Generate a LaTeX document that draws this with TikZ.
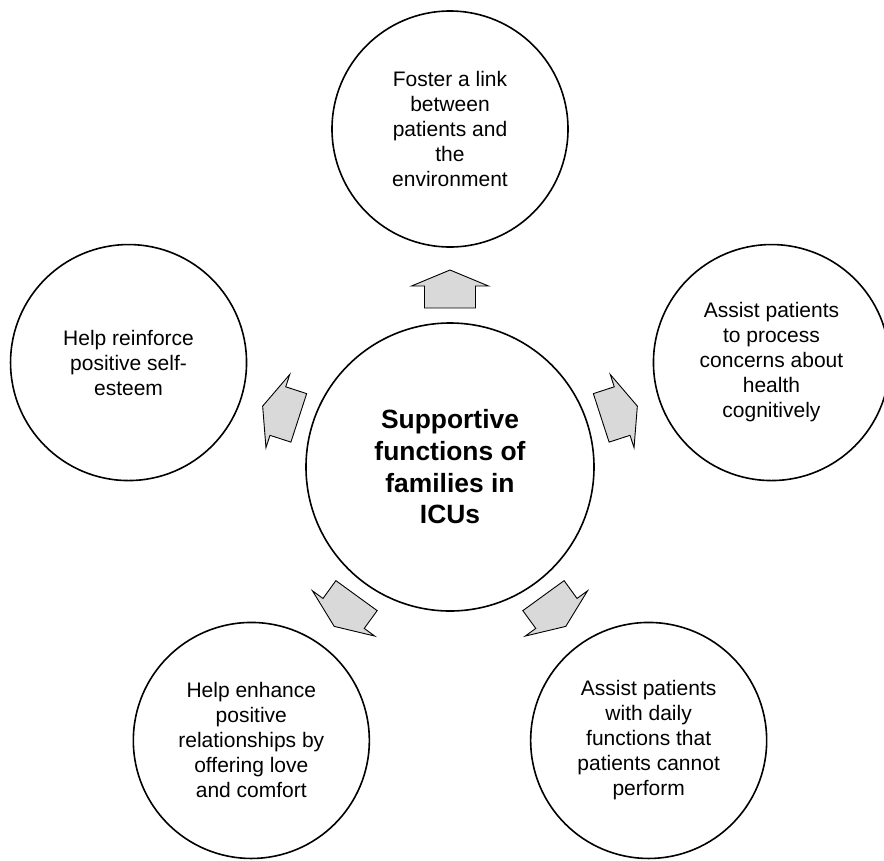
\documentclass[tikz,border=0pt]{standalone}
\usepackage{fontspec}
\setmainfont{Liberation Sans}
\usetikzlibrary{calc}
\definecolor{arrowgray}{HTML}{D9D9D9}
\begin{document}
\begin{tikzpicture}[x=1pt,y=1pt,
  outer/.style={circle, draw=black, line width=1.6pt, fill=white, minimum size=236pt, inner sep=0pt, align=center, font=\fontsize{21}{25}\selectfont},
  hub/.style={circle, draw=black, line width=1.6pt, fill=white, minimum size=288pt, inner sep=0pt, align=center, font=\fontsize{26.4}{31.7}\selectfont\bfseries},
  blockarrow/.style={draw=black, line width=0.9pt, fill=arrowgray, line join=miter}]
\useasboundingbox (0,-860) rectangle (884,0);
\clip (0,-860) rectangle (884,0);
\node[hub] (c) at (450,-467) {Supportive\\functions of\\families in\\ICUs};
\node[outer] (t) at ($(c)+(90:338)$) {Foster a link\\between\\patients and\\the\\environment};
\node[outer] (r) at ($(c)+(18:338)$) {Assist patients\\to process\\concerns about\\health\\cognitively};
\node[outer] (br) at ($(c)+(-54:338)$) {Assist patients\\with daily\\functions that\\patients cannot\\perform};
\node[outer] (bl) at ($(c)+(-126:338)$) {Help enhance\\positive\\relationships by\\offering love\\and comfort};
\node[outer] (l) at ($(c)+(162:338)$) {Help reinforce\\positive self-\\esteem};
\foreach \a in {90,18,-54,-126,162}
  \draw[blockarrow, shift={(c.center)}, rotate=\a]
    (159,-25.5) -- (181,-25.5) -- (181,-38.5) -- (197,0) -- (181,38.5) -- (181,25.5) -- (159,25.5) -- cycle;
\end{tikzpicture}
\end{document}
